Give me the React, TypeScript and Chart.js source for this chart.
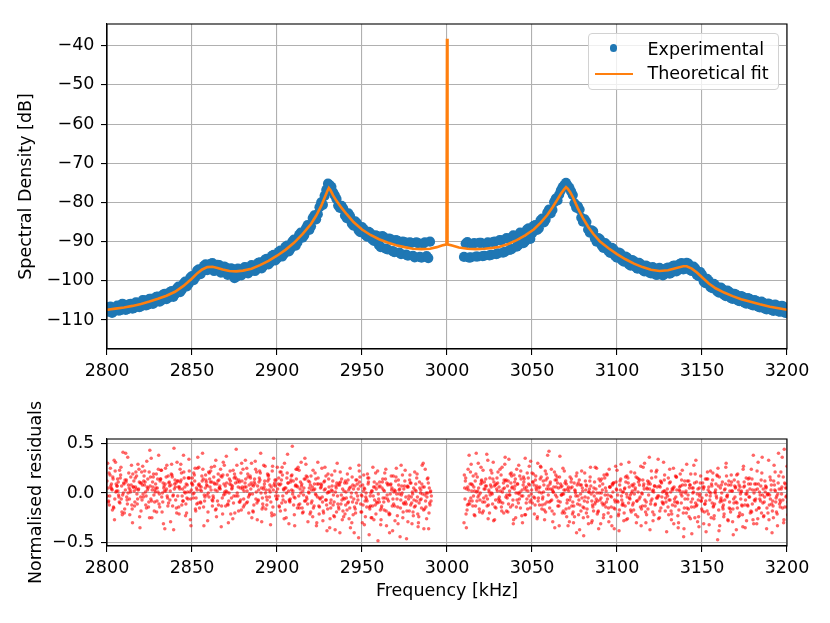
import { useEffect, useRef } from "react"
import { Chart, registerables } from "chart.js"

Chart.register(...registerables)

const FONT = "'DejaVu Sans', 'Liberation Sans', sans-serif"
const BLUE = "#1f77b4"
const ORANGE = "#ff7f0e"
const GRID = "#b0b0b0"

// ---- tick labels
const xTicks = [2800, 2850, 2900, 2950, 3000, 3050, 3100, 3150, 3200]
const yTicksTop = [-110, -100, -90, -80, -70, -60, -50, -40]
const yTicksBottom = [-0.5, 0, 0.5]

// ---- experimental spectrum (dB): two interleaved sweeps, 2 kHz apart each, either side of the gap
const expStep = 2
const expLeftStartA = 2800
const expRightStartA = 3010
const expLeftA = [
  -107.9, -106.6, -107.8, -106.3, -107.5, -106.1, -107.2, -105.9, -106.9, -105.6,
  -106.5, -105.0, -106.1, -104.6, -105.5, -104.0, -105.0, -103.3, -104.3, -102.6,
  -103.4, -101.5, -102.3, -100.2, -100.8, -98.8, -99.1, -97.1, -97.6, -95.8,
  -96.9, -95.5, -97.2, -96.0, -97.8, -96.6, -98.3, -97.0, -99.0, -97.1,
  -98.0, -96.6, -97.6, -96.2, -97.1, -95.3, -96.2, -94.4, -95.3, -93.4,
  -94.3, -92.3, -93.2, -91.0, -91.8, -89.5, -90.2, -87.7, -88.4, -85.8,
  -86.1, -83.3, -83.0, -80.0, -78.3, -75.2, -76.0, -78.2, -80.8, -80.9,
  -83.3, -82.8, -85.4, -84.8, -87.1, -86.3, -88.3, -87.5, -89.4, -88.4,
  -90.9, -88.6, -91.8, -89.2, -92.4, -89.6, -92.8, -90.0, -93.3, -90.2,
  -93.6, -90.2, -93.9, -90.5, -93.7, -90.0,
]
const expRightA = [
  -93.9, -90.1, -94.0, -90.4, -93.8, -90.3, -93.6, -90.2, -93.4, -90.0,
  -93.0, -89.7, -92.6, -89.2, -91.9, -88.6, -90.9, -87.8, -89.9, -86.6,
  -87.9, -85.8, -86.6, -84.1, -84.4, -81.8, -81.9, -79.0, -78.0, -76.1,
  -75.0, -76.3, -78.1, -81.3, -81.8, -84.9, -85.0, -87.7, -87.4, -90.0,
  -89.4, -91.6, -90.8, -92.9, -92.0, -94.1, -93.0, -95.1, -94.1, -96.1,
  -95.0, -96.9, -95.8, -97.6, -96.4, -98.1, -96.8, -98.4, -97.0, -98.3,
  -96.6, -97.9, -96.1, -97.2, -95.5, -96.9, -95.6, -97.5, -96.8, -98.8,
  -98.4, -100.6, -100.0, -101.9, -101.2, -103.0, -102.1, -103.9, -102.8, -104.6,
  -103.5, -105.2, -104.1, -105.8, -104.6, -106.3, -105.2, -106.8, -105.6, -107.3,
  -106.0, -107.7, -106.3, -107.9, -106.6, -108.0,
]
const expLeftStartB = 2801
const expRightStartB = 3011
const expLeftB = [
  -106.7, -108.2, -106.9, -107.6, -105.9, -107.4, -106.0, -107.1, -105.5, -106.7,
  -104.9, -106.3, -104.6, -105.9, -104.1, -105.3, -103.5, -104.7, -102.9, -104.1,
  -102.0, -102.9, -100.7, -101.4, -99.2, -99.8, -97.4, -98.3, -96.2, -97.3,
  -95.7, -97.5, -95.9, -97.9, -96.4, -98.5, -96.8, -99.3, -96.9, -98.6,
  -96.5, -98.1, -96.0, -97.5, -95.4, -96.8, -94.6, -95.8, -93.6, -94.8,
  -92.6, -93.8, -91.3, -92.5, -90.0, -91.0, -88.3, -89.0, -86.6, -87.0,
  -84.0, -84.3, -81.2, -80.6, -76.8, -75.6, -77.4, -79.1, -81.4, -81.6,
  -84.0, -83.5, -85.9, -85.3, -87.6, -86.8, -88.7, -87.9, -89.8, -88.6,
  -91.4, -88.9, -92.0, -89.4, -92.7, -89.8, -93.2, -90.1, -93.6, -90.3,
  -94.0, -90.4, -94.1, -90.2, -94.2,
]
const expRightB = [
  -90.5, -94.1, -90.7, -93.8, -90.3, -93.7, -90.6, -93.5, -90.1, -93.2,
  -89.6, -92.8, -89.1, -92.1, -88.4, -91.3, -87.7, -90.4, -86.9, -89.3,
  -86.0, -87.0, -84.6, -85.1, -82.6, -82.8, -79.9, -79.5, -76.9, -75.6,
  -75.7, -77.2, -80.2, -81.0, -83.9, -84.3, -86.9, -87.1, -89.2, -89.1,
  -91.0, -90.4, -92.4, -91.6, -93.7, -92.8, -94.8, -93.8, -95.8, -94.7,
  -96.5, -95.4, -97.2, -96.1, -97.9, -96.5, -98.5, -96.7, -98.6, -96.8,
  -98.2, -96.2, -97.6, -95.7, -97.1, -95.4, -97.3, -96.4, -98.5, -97.8,
  -100.2, -99.5, -101.6, -100.8, -102.7, -101.7, -103.6, -102.5, -104.4, -103.3,
  -105.0, -103.9, -105.6, -104.4, -106.1, -104.9, -106.6, -105.3, -107.1, -105.8,
  -107.5, -106.1, -107.8, -106.4, -108.2,
]

// ---- theoretical fit (dB)
const fitFreqs = [
  2800, 2805, 2810, 2815, 2820, 2825, 2830, 2835, 2840, 2845, 2850, 2853, 2856, 2859, 2862,
  2865, 2868, 2872, 2876, 2880, 2885, 2890, 2895, 2900, 2905, 2910, 2915, 2920, 2923, 2926,
  2928, 2929.5, 2930.5, 2931.5, 2933, 2935, 2938, 2941, 2945, 2950, 2955, 2960, 2965, 2970,
  2975, 2980, 2985, 2990, 2994, 2997, 2999.7, 3000, 3000.3, 3003, 3007, 3012, 3017, 3022,
  3027, 3031, 3036, 3041, 3046, 3051, 3055, 3059, 3062, 3065, 3067, 3069, 3070, 3071,
  3072.5, 3074, 3077, 3080, 3083, 3086, 3090, 3095, 3100, 3105, 3110, 3115, 3120, 3125,
  3130, 3135, 3139, 3141, 3144, 3147, 3150, 3154, 3158, 3163, 3168, 3173, 3178, 3184,
  3190, 3195, 3200,
]
const fitValues = [
  -107.4, -107.1, -106.8, -106.4, -105.9, -105.3, -104.6, -103.8, -102.8, -101.3, -99.4, -98.1, -97.1, -96.5, -96.4,
  -96.7, -97.1, -97.5, -97.6, -97.4, -96.9, -96.0, -94.9, -93.6, -92.1, -90.3, -88.1, -85.5, -83.4, -80.9,
  -78.8, -77.2, -76.3, -76.9, -78.2, -79.6, -81.4, -83.0, -85.0, -86.9, -88.3, -89.4, -90.2, -90.9,
  -91.4, -91.8, -91.9, -91.8, -91.4, -91.0, -90.7, -38.2, -90.7, -91.0, -91.5, -91.8, -91.9, -91.8,
  -91.6, -91.3, -90.6, -89.6, -88.4, -86.9, -85.2, -83.2, -81.3, -79.2, -77.8, -76.6, -76.1, -76.5,
  -77.4, -78.6, -81.5, -84.0, -86.2, -88.0, -90.0, -91.7, -93.2, -94.5, -95.6, -96.5, -97.2, -97.5,
  -97.3, -96.7, -96.3, -96.3, -96.9, -97.9, -99.1, -100.7, -101.9, -103.0, -103.9, -104.7, -105.3, -106.0,
  -106.6, -107.0, -107.4,
]

// ---- normalised residuals (hundredths), 1 kHz steps, five interleaved sweeps
const resLeftStart = 2800
const resRightStart = 3010
const resLeftA = [
  12, -8, 25, 3, -15, 31, 7, -4, 18, -22, 9, 40, -11, 5, 16, -30, 2, 21, -6, 11,
  -18, 27, 8, -3, 14, -25, 35, 6, -9, 19, 1, -14, 23, 10, -36, 4, 17, -7, 29, -2,
  13, -20, 6, 24, -12, 38, 0, -5, 15, -27, 9, 20, -16, 3, 26, -9, 12, -33, 18, 7,
  -4, 22, -13, 10, 33, -8, 5, 17, -21, 28, 2, -11, 14, 8, -26, 19, 44, -3, 11, -17,
  24, 6, -10, 16, -1, 30, -19, 9, 21, -7, 13, -29, 4, 27, -12, 18, 1, -23, 35, 7,
  -6, 15, -18, 26, 3, -9, 20, -31, 11, 47, -4, 8, -15, 23, 0, -20, 14, 29, -11, 5,
  17, -24, 9, -2, 31, -14, 6, -28, 12, -7, 19, -35, 3, -12, 22, -19, 8, -40, 14, -5,
  -21, 10, -9, 25, -30, 4, -16, 13, -45, 7, -3, 18, -24, -8, 15, -13, 2, -27, 20, -10,
  6, -32, 11, -17, 24, -6, -22, 9, -38, 3, 16, -14, -1, 28, -25, 7, -11, -29, 13, -4,
  -19, 21, -8, -34, 5, -15, 30, -2, -26, 10, -12,
]
const resRightA = [
  -30, 15, -12, 38, -5, 8, -22, 19, 2, -16, 26, -9, 11, -3, 33, -20, 6, 14, -27, 9,
  21, -7, -14, 4, 29, -18, 12, -2, 17, -31, 7, 24, -10, 1, -23, 16, 35, -6, 9, -15,
  20, -4, 13, -26, 5, 27, -12, 8, -19, 15, 42, -8, 3, -21, 18, 10, -33, 6, -1, 22,
  -16, 4, -29, 11, -9, -24, 17, -3, -37, 8, -14, 20, -20, -5, 12, -30, 1, -11, 25, -18,
  -7, 14, -25, -2, 19, -15, 6, -33, 10, -9, 23, -21, 3, -12, -28, 16, -4, 31, -17, 2,
  9, -22, 15, -6, 27, -13, 4, -30, 12, 36, -8, -19, 7, 21, -3, -25, 11, -10, 18, -1,
  -14, 24, -27, 5, -9, 16, -35, 2, 13, -20, -6, 29, -16, 8, -41, 1, 19, -12, -24, 10,
  -5, -31, 14, -18, 6, 22, -10, -26, 3, 17, -38, -7, 11, -21, 26, -2, -15, 8, -29, 13,
  -9, 19, -23, 1, -34, 7, 15, -13, -4, 24, -27, 9, -17, 31, -6, -20, 4, 12, -36, -1,
  16, -11, -25, 21, -3, 40, -14, 6, -30, 9, 27,
]
const resLeftB = [
  -3, 20, 7, -17, 33, 1, 14, -9, 26, -2, -20, 11, 36, -6, 8, 19, -13, 4, 29, -24,
  10, -1, 22, -15, 5, 43, -8, 16, 3, -19, 24, 12, -4, -31, 9, 28, -10, 2, 18, -37,
  6, 31, -14, 11, -3, 21, -23, 8, 34, -6, 15, 0, -18, 25, 9, -10, 40, -2, 13, -28,
  20, 3, -8, 27, -16, 12, 5, -34, 18, 1, 37, -12, 9, -5, 23, -20, 14, 6, -9, 30,
  -14, 10, 25, -4, 17, -25, 7, 32, -10, 3, 20, -16, 28, 0, -7, 14, -32, 22, 8, -3,
  26, -13, 9, 18, -26, 5, 39, -7, 13, -1, -22, 24, 6, -15, 31, 2, -8, 17, -29, 11,
  -10, 23, 4, -33, 15, -5, 8, -18, 26, -12, 1, -26, 18, -2, -37, 10, -14, 21, -7, -24,
  12, -17, 3, -35, 16, -6, -20, 9, 28, -11, -30, 5, -4, 19, -42, 0, -13, 11, -21, 22,
  -9, -27, 14, 2, -18, 8, -40, 17, -6, -13, 25, -31, 4, -2, -19, 12, -46, 6, 18, -10,
  -23, 3, 15, -30, -7, 9, -17, 24, -4, -36, 1,
]
const resRightB = [
  18, -21, 6, -8, 29, -13, 2, 40, -4, -19, 12, 23, -9, 7, -26, 15, 0, 31, -14, 4,
  -6, 24, -18, 10, 36, -2, -11, 19, 5, -27, 14, -7, 28, -15, 3, 11, -22, 20, -3, 32,
  -10, 8, 17, -24, 1, 26, -6, -17, 13, 38, -9, 4, -29, 21, 6, -13, 16, -2, 25, -20,
  9, -33, -7, 14, -19, 3, -40, 10, -12, 22, -25, -4, 7, -31, 16, -8, -18, 26, 0, -36,
  12, -10, -22, 5, 18, -29, -3, 9, -15, 27, -8, -38, 14, 1, -20, 11, -26, 6, 21, -12,
  -1, 16, -24, 8, -33, 13, 30, -9, -16, 4, 22, -28, 7, -5, 34, -18, 10, -11, 2, -39,
  15, -7, -21, 25, -13, 3, -30, 19, -3, -44, 8, -15, 12, -26, 5, 28, -10, -1, -34, 17,
  -18, 6, -8, 21, -32, 0, 13, -23, 9, -47, 16, -5, -14, 3, 30, -27, -9, 18, -16, 7,
  -37, 11, -20, 2, 24, -12, -28, 14, 4, -19, 38, -8, -31, 9, -2, 20, -24, 1, -15, 33,
  -6, -40, 12, 2, -21, 17, -9, 36, -27, 5, -14,
]
const resLeftC = [
  30, -12, 5, 16, -27, 9, 2, 23, -6, 41, -16, 13, 0, -22, 28, 6, -9, 17, 3, -35,
  21, -4, 11, 32, -14, 7, -25, 19, 1, -8, 38, 14, -19, 5, 25, -3, 10, -29, 16, 45,
  -7, 12, -21, 29, 4, 15, -11, 1, 22, -33, 8, 18, -5, 36, -15, 6, 24, -8, 11, -19,
  14, 26, -3, 9, -24, 19, 7, -13, 31, -1, 10, -30, 22, 4, -10, 16, 28, -18, 5, 12,
  -6, 33, 2, -20, 15, 8, -12, 24, -27, 11, 40, -5, 6, -16, 19, 3, -9, 27, -22, 13,
  4, -14, 21, -3, 30, -25, 10, -8, 17, 2, -33, 14, 26, -11, 7, -19, 35, -4, 12, -21,
  3, -15, 20, -30, 9, -6, 25, -20, 4, -38, 14, -10, 7, -23, 1, 30, -16, 11, -27, 2,
  -12, 19, -26, 6, -9, -40, 13, -3, 22, -19, 8, -32, 0, 15, -14, -25, 26, -7, 4, -48,
  11, -15, -5, 20, -33, 9, -21, 3, 17, -28, -1, 13, -44, 7, -10, 23, -18, -6, 10, -31,
  5, -13, 19, -24, 0, 28, -36, -8, 14, -20, 2,
]
const resRightC = [
  5, -35, 24, -11, 9, 17, -23, 1, 30, -7, 13, -18, 4, 39, -12, -2, 20, -28, 8, 15,
  -9, 2, 26, -20, 12, -5, 34, -14, 6, 18, -25, 9, -1, 22, -30, 14, 3, -16, 27, -7,
  11, -21, 5, 30, -12, 16, -4, -27, 19, 7, -15, 24, 1, -35, 13, -8, 37, -2, -18, 10,
  -24, 6, 16, -13, -30, 2, 20, -22, 8, -5, -43, 12, -16, 1, 26, -28, 5, -9, -21, 14,
  -31, 3, 18, -14, -6, 24, -24, 8, -36, 11, -2, -17, 29, -10, 4, -27, 15, -5, -19, 7,
  20, -30, 1, 13, -16, 26, -7, -22, 9, -37, 15, 3, -12, 23, -26, 6, -4, 31, -18, 0,
  -22, 11, 4, -31, 17, -9, -17, 7, 23, -36, 0, 12, -24, 19, -6, -14, 33, -29, 5, -8,
  10, -19, -39, 14, 1, -25, 20, -11, -3, 25, -33, 8, -16, -7, 17, -28, 2, 11, -42, -4,
  18, -24, 6, -12, 27, -35, -1, 9, -20, 14, -31, 3, 22, -15, -8, 36, -23, 7, -2, -27,
  13, -18, 28, -9, -33, 4, 21, -15, 44, -4, -22,
]
const resLeftD = [
  5, -3, 9, 14, -6, 2, 11, -10, 7, 0, 13, -4, 8, 3, -12, 6, 15, -1, 4, 10,
  -7, 12, 1, 6, -9, 16, 3, -2, 9, 5, -11, 14, 0, 7, 2, -5, 11, 8, -13, 4,
  10, -3, 6, 13, -8, 1, 9, -6, 15, 3, -1, 12, 5, -10, 7, 2, 14, -4, 8, 0,
  6, 11, -5, 3, 9, -12, 4, 16, -2, 7, 1, -8, 12, 5, -3, 10, 0, 13, -7, 6,
  2, 14, -9, 8, 4, -1, 11, -6, 7, 15, 0, -11, 9, 3, 12, -4, 6, -14, 10, 1,
  -3, 8, 13, -7, 5, 0, 10, -9, 3, 12, -5, 7, -12, 4, 9, -2, 14, -6, 1, 8,
  -8, 3, -1, 9, -13, 5, -4, 11, -7, 0, 6, -15, 2, -9, 7, -3, 10, -11, 4, -6,
  1, -10, 5, -4, 8, -14, 0, -7, 11, -2, -12, 4, -6, 9, -16, 2, -3, 6, -9, -1,
  7, -13, 3, -5, 10, -8, -1, 5, -11, 2, -6, 8, -15, 0, 4, -9, 6, -3, -12, 1,
  -7, 9, -4, -10, 3, -1, 6, -14, 0, 5, -8,
]
const resRightD = [
  -6, 4, -11, 9, 2, -3, 12, -8, 5, 0, 10, -5, 7, -13, 3, 8, -1, 11, -7, 2,
  6, -9, 1, 13, -4, 7, -2, 10, -12, 4, 0, 9, -6, 14, -3, 5, -10, 2, 8, -1,
  11, -5, 3, -8, 6, 0, 12, -11, 4, -2, 9, -7, 1, 13, -4, 5, -9, 7, -1, 3,
  -10, 2, -4, 6, -13, 0, 8, -7, -1, 5, -15, 3, -9, 1, 7, -12, -3, 4, -8, 0,
  -5, 9, -11, 2, -2, 6, -14, 1, -7, 4, -9, 8, -3, -12, 5, -1, 10, -6, 0, -10,
  3, -8, 11, -4, 0, 7, -13, 5, -2, 9, -6, 1, -11, 6, -3, 12, -9, 2, -5, 4,
  -7, 1, -12, 6, -4, -10, 3, -1, 8, -15, 2, -6, 5, -9, 0, 10, -13, 4, -3, -8,
  6, -11, -2, 3, -7, 9, -14, 1, -5, 7, -9, 0, -12, 4, -3, 8, -16, 2, -6, 5,
  -10, 3, -1, -13, 6, -7, 2, -4, 9, -11, 0, -6, 4, -15, 7, -2, -9, 5, -1, -12,
  3, -8, 8, -5, -1, -11, 4, -7, 10, -3, -9,
]
const resLeftE = [
  -9, 18, 4, -14, 22, 7, -2, 15, -19, 10, 3, -7, 20, 1, -16, 12, 6, -11, 24, -4,
  8, 17, -12, 3, 21, -6, 11, -18, 5, 14, -1, 23, -9, 2, 16, -13, 7, 19, -3, 9,
  -15, 12, 4, 20, -8, 6, -20, 15, 1, 10, -5, 25, -11, 8, 3, 17, -14, 5, -2, 21,
  11, -7, 16, -17, 2, 13, 24, -5, 9, -13, 18, 0, -21, 7, 15, -3, 11, -9, 20, 4,
  -12, 6, 19, -2, 10, -18, 14, 1, -8, 22, 5, -14, 12, -4, 17, 8, -20, 3, 13, -6,
  9, 21, -10, 4, -17, 15, 2, -6, 18, -12, 7, 24, -3, 11, -15, 5, -8, 16, 0, -19,
  6, -13, 14, -4, -21, 9, -9, 3, 17, -16, 1, -7, 12, -24, 5, -11, 8, -2, -18, 10,
  -5, 13, -15, 0, -22, 7, -10, 4, 16, -19, 2, -8, -14, 11, -3, -25, 6, -12, 9, -6,
  -17, 5, -9, 14, -2, -20, 8, -13, 1, 12, -23, 3, -7, 18, -11, -4, 7, -18, 10, -1,
  -14, 2, -21, 11, -6, 6, -16, 0, 15, -10, -3,
]
const resRightE = [
  12, -17, 3, 21, -8, 6, -13, 16, -2, 9, -20, 4, 14, -6, 1, 23, -11, 7, -15, 10,
  -4, 18, -10, 5, 13, -19, 2, 20, -7, 11, -14, 0, 17, -3, 8, -22, 6, 15, -9, 3,
  19, -12, 7, -5, 14, -16, 1, 22, -9, 4, 11, -18, 6, -2, 16, -13, 9, -20, 3, 12,
  -7, -15, 5, -21, 10, -3, -11, 13, -18, 2, -8, 8, -24, 4, -1, -14, 11, -6, -19, 7,
  0, -12, 15, -9, -20, 6, -4, 10, -16, 3, -23, 12, -7, 1, -13, 17, -10, -2, 8, -17,
  5, -8, 14, -14, -1, 9, -19, 4, 11, -11, 2, -22, 16, -5, 7, -15, 1, 13, -9, -3,
  10, -18, 3, -6, 16, -23, 6, -10, 1, 12, -20, -2, 8, -14, 5, -25, 11, -7, -1, -16,
  4, -11, 14, -21, -3, 7, -13, 0, 18, -17, 5, -8, -24, 9, -4, 12, -19, 2, -10, 6,
  -15, 8, -6, -22, 11, -1, -12, 15, -18, 3, -7, 9, -26, 1, 13, -10, -4, 6, -20, -2,
  8, -13, 3, -19, 10, -7, -1, 16, -14, 5, -9,
]

// ---- layout (px)
const W = 830
const TOP_H = 380
const BOT_TOP = 390
const BOT_H = 233
const PLOT_LEFT = 107
const PLOT_RIGHT = 787
const axisFont = { family: FONT, size: 17.5 }

const minus = (s: string) => s.replace("-", "\u2212")

const sweep = (start: number, step: number, values: number[], offset = 0, scale = 1) =>
  values.map((v, i) => ({ x: start + i * step + offset, y: v * scale }))

const framePlugin = {
  id: "frame",
  afterDatasetsDraw(chart: any) {
    const { ctx, chartArea: a } = chart
    ctx.save()
    ctx.strokeStyle = "#000"
    ctx.lineWidth = 1.1
    ctx.strokeRect(a.left, a.top, a.right - a.left, a.bottom - a.top)
    ctx.restore()
  },
}

const gridOpts = { color: GRID, lineWidth: 1.1, tickColor: "#000", tickWidth: 1.1, tickLength: 6 }
const borderOpts = { color: "#000", width: 1.1 }

function xAxis(height: number, title?: string) {
  return {
    type: "linear" as const,
    min: 2800,
    max: 3200,
    afterBuildTicks: (s: any) => { s.ticks = xTicks.map((v) => ({ value: v })) },
    afterFit: (s: any) => { s.height = height },
    grid: gridOpts,
    border: borderOpts,
    ticks: {
      color: "#000", font: axisFont, padding: 6, maxRotation: 0, autoSkip: false,
      callback: (v: any) => String(v),
    },
    title: {
      display: !!title,
      text: title || "",
      color: "#000",
      font: axisFont,
      padding: { top: 0, bottom: 21.5 },
    },
  }
}

function yAxis(min: number, max: number, ticks: number[], title: string, titlePad: number, fmt: (v: number) => string) {
  return {
    type: "linear" as const,
    min,
    max,
    afterBuildTicks: (s: any) => { s.ticks = ticks.map((v) => ({ value: v })) },
    afterFit: (s: any) => { s.width = PLOT_LEFT },
    grid: gridOpts,
    border: borderOpts,
    ticks: { color: "#000", font: axisFont, padding: 6.5, callback: (v: any) => fmt(Number(v)) },
    title: { display: true, text: title, color: "#000", font: axisFont, padding: { top: titlePad, bottom: 0 } },
  }
}

export default function App() {
  const topRef = useRef<HTMLCanvasElement>(null)
  const bottomRef = useRef<HTMLCanvasElement>(null)

  useEffect(() => {
    if (!topRef.current || !bottomRef.current) return
    Chart.defaults.font.family = FONT

    const experimental = [
      ...sweep(expLeftStartA, expStep, expLeftA),
      ...sweep(expLeftStartB, expStep, expLeftB),
      ...sweep(expRightStartA, expStep, expRightA),
      ...sweep(expRightStartB, expStep, expRightB),
    ]
    const fit = fitFreqs.map((f, i) => ({ x: f, y: fitValues[i] }))

    const top = new Chart(topRef.current, {
      type: "scatter",
      data: {
        datasets: [
          {
            label: "Theoretical fit",
            data: fit,
            showLine: true,
            borderColor: ORANGE,
            backgroundColor: ORANGE,
            borderWidth: 2.6,
            pointRadius: 0,
            clip: 0,
            order: 0,
          },
          {
            label: "Experimental",
            data: experimental,
            backgroundColor: BLUE,
            borderWidth: 0,
            pointRadius: 5.1,
            clip: 0,
            order: 1,
          },
        ],
      },
      options: {
        responsive: false,
        animation: false,
        events: [],
        layout: { padding: { left: 0, right: W - PLOT_RIGHT, top: 24, bottom: 0 } },
        plugins: { legend: { display: false }, tooltip: { enabled: false } },
        scales: {
          x: xAxis(TOP_H - 349),
          y: yAxis(-117.4, -34.46, yTicksTop, "Spectral Density [dB]", 16, (v) => minus(String(v))),
        },
      },
      plugins: [framePlugin],
    })

    const rows: [number[], number[], number][] = [
      [resLeftA, resRightA, 0],
      [resLeftB, resRightB, 0.2],
      [resLeftC, resRightC, 0.4],
      [resLeftD, resRightD, 0.6],
      [resLeftE, resRightE, 0.8],
    ]
    const residuals = rows.flatMap(([l, r, off]) => [
      ...sweep(resLeftStart, 1, l, off, 0.01),
      ...sweep(resRightStart, 1, r, off, 0.01),
    ])

    const bottom = new Chart(bottomRef.current, {
      type: "scatter",
      data: {
        datasets: [
          {
            label: "Residuals",
            data: residuals,
            backgroundColor: "rgba(255, 0, 0, 0.6)",
            borderWidth: 0,
            pointRadius: 1.75,
            clip: 0,
          },
        ],
      },
      options: {
        responsive: false,
        animation: false,
        events: [],
        layout: { padding: { left: 0, right: W - PLOT_RIGHT, top: 439 - BOT_TOP, bottom: 0 } },
        plugins: { legend: { display: false }, tooltip: { enabled: false } },
        scales: {
          x: xAxis(BOT_H - (546 - BOT_TOP), "Frequency [kHz]"),
          y: yAxis(-0.533, 0.543, yTicksBottom, "Normalised residuals", 26, (v) => minus(v.toFixed(1))),
        },
      },
      plugins: [framePlugin],
    })

    return () => {
      top.destroy()
      bottom.destroy()
    }
  }, [])

  const legendText = { position: "absolute" as const, left: 647.5, fontSize: 17.5, lineHeight: "21px", color: "#000", whiteSpace: "nowrap" as const }

  return (
    <div style={{ position: "fixed", left: 0, top: 0, width: W, height: 623, background: "#fff", fontFamily: FONT }}>
      <canvas ref={topRef} width={W} height={TOP_H} style={{ position: "absolute", left: 0, top: 0 }} />
      <canvas ref={bottomRef} width={W} height={BOT_H} style={{ position: "absolute", left: 0, top: BOT_TOP }} />
      {/* legend */}
      <div
        style={{
          position: "absolute", left: 588, top: 33, width: 191, height: 57, boxSizing: "border-box",
          border: "1px solid #d2d2d2", borderRadius: 4, background: "rgba(255,255,255,0.8)",
        }}
      />
      <div style={{ position: "absolute", left: 609.5, top: 44, width: 7.5, height: 7.5, borderRadius: "50%", background: BLUE }} />
      <div style={{ position: "absolute", left: 595, top: 72.8, width: 38, height: 2.5, background: ORANGE }} />
      <span style={{ ...legendText, top: 38.6 }}>Experimental</span>
      <span style={{ ...legendText, top: 63.2 }}>Theoretical fit</span>
    </div>
  )
}
